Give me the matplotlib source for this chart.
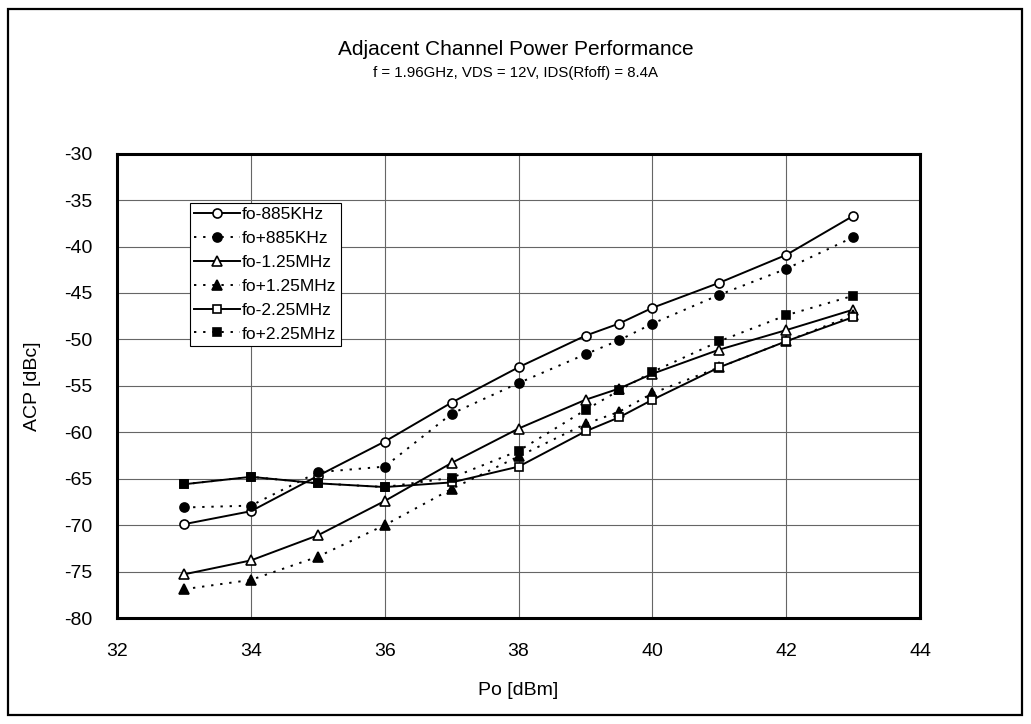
import matplotlib.pyplot as plt
from matplotlib.patches import Rectangle

plt.rcParams['font.family'] = ['Liberation Sans', 'DejaVu Sans']
plt.rcParams['axes.unicode_minus'] = False

# output power [dBm]
po = [33, 34, 35, 36, 37, 38, 39, 39.5, 40, 41, 42, 43]

# ACP [dBc] for each offset
m885 = [-69.9, -68.5, -64.7, -61.0, -56.8, -53.0, -49.6, -48.3, -46.6, -43.9, -40.9, -36.7]
p885 = [-68.1, -67.9, -64.3, -63.7, -58.0, -54.7, -51.6, -50.1, -48.3, -45.2, -42.4, -39.0]
m125 = [-75.3, -73.8, -71.1, -67.4, -63.3, -59.6, -56.5, -55.3, -53.7, -51.1, -49.0, -46.8]
p125 = [-76.9, -75.9, -73.4, -70.0, -66.1, -62.6, -59.1, -57.8, -55.8, -53.0, -50.2, -47.4]
m225 = [-65.6, -64.8, -65.5, -65.9, -65.4, -63.7, -59.9, -58.4, -56.5, -53.0, -50.2, -47.6]
p225 = [-65.6, -64.8, -65.5, -65.9, -64.9, -62.0, -57.6, -55.5, -53.5, -50.2, -47.4, -45.3]

labels = ['fo-885KHz', 'fo+885KHz', 'fo-1.25MHz', 'fo+1.25MHz', 'fo-2.25MHz', 'fo+2.25MHz']
series = [m885, p885, m125, p125, m225, p225]
markers = ['o', 'o', '^', '^', 's', 's']
filled = [False, True, False, True, False, True]
dotted = (0, (1.2, 3.5))

fig = plt.figure(figsize=(10.31, 7.24), dpi=100)
ax = fig.add_axes([0.1135, 0.1464, 0.779, 0.6414])

for ys, lab, mk, fl in zip(series, labels, markers, filled):
    ax.plot(po, ys, color='black', lw=1.4,
            linestyle=dotted if fl else '-',
            marker=mk, markersize=6.5 if mk != 's' else 6,
            markerfacecolor='black' if fl else 'white',
            markeredgecolor='black', markeredgewidth=1.2, label=lab)

ax.set_xlim(32, 44)
ax.set_ylim(-80, -30)
ax.set_xticks(range(32, 45, 2))
ax.set_yticks(range(-80, -29, 5))
ax.grid(True, color='#666666', lw=0.8)
ax.tick_params(labelsize=14, length=0, pad=18)
for s in ax.spines.values():
    s.set_linewidth(2.2)

ax.set_xlabel('Po [dBm]', fontsize=14, labelpad=16)
ax.set_ylabel('ACP [dBc]', fontsize=14, labelpad=16)

leg = ax.legend(loc='upper left', bbox_to_anchor=(0.091, 0.894), fontsize=12.5,
                frameon=True, fancybox=False, framealpha=1, edgecolor='black',
                handlelength=2.6, handletextpad=0.15, borderpad=0.25,
                labelspacing=0.5, borderaxespad=0)
leg.get_frame().set_linewidth(0.8)

fig.text(0.5, 0.932, 'Adjacent Channel Power Performance', ha='center', va='center', fontsize=15)
fig.text(0.5, 0.899, 'f = 1.96GHz, VDS = 12V, IDS(Rfoff) = 8.4A', ha='center', va='center',
         fontsize=10.8)

fig.patches.append(Rectangle((0.008, 0.012), 0.983, 0.975, transform=fig.transFigure,
                             fill=False, edgecolor='black', lw=1.6))

plt.savefig('out.png', dpi=100)
plt.close()
